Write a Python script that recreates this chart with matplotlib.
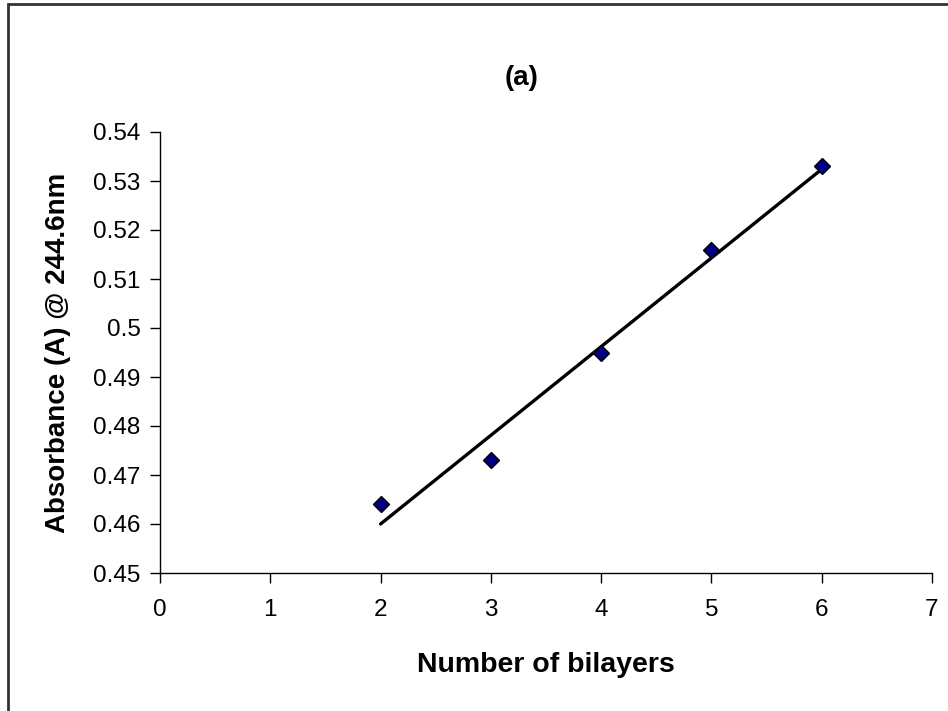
import matplotlib

matplotlib.use("Agg")
import matplotlib.pyplot as plt
import numpy as np
from matplotlib.patches import Rectangle

# absorbance at 244.6 nm vs number of deposited bilayers
bilayers = [2, 3, 4, 5, 6]
absorbance = [0.464, 0.473, 0.495, 0.516, 0.533]

x_ticks = [0, 1, 2, 3, 4, 5, 6, 7]
y_ticks = [0.45, 0.46, 0.47, 0.48, 0.49, 0.50, 0.51, 0.52, 0.53, 0.54]
y_tick_labels = ["0.45", "0.46", "0.47", "0.48", "0.49", "0.5",
                 "0.51", "0.52", "0.53", "0.54"]

plt.rcParams["font.family"] = ["Liberation Sans", "DejaVu Sans"]

W, H = 948, 711
fig = plt.figure(figsize=(W / 100, H / 100), dpi=100)
fig.patch.set_facecolor("white")

# chart-area border (only top and left edges fall inside the image)
fig.patches.append(Rectangle((8 / W, -0.2), 1.2, 1.2 - 4 / H,
                             transform=fig.transFigure, fill=False,
                             edgecolor="#333333", linewidth=2))

ax = fig.add_axes([160 / W, 138 / H, (932 - 160) / W, (573 - 132) / H])

# least-squares trend line through the measured points
slope, intercept = np.polyfit(bilayers, absorbance, 1)
fit_x = np.array([bilayers[0], bilayers[-1]])
ax.plot(fit_x, slope * fit_x + intercept, color="black", linewidth=2.4,
        solid_capstyle="round", zorder=2)

ax.plot(bilayers, absorbance, linestyle="none", marker="D", markersize=8.5,
        markerfacecolor="#000080", markeredgecolor="black",
        markeredgewidth=1.0, zorder=3)

ax.set_xlim(0, 7)
ax.set_ylim(0.45, 0.54)
ax.set_xticks(x_ticks)
ax.set_yticks(y_ticks)
ax.set_yticklabels(y_tick_labels)

for side in ("top", "right"):
    ax.spines[side].set_visible(False)
for side in ("left", "bottom"):
    ax.spines[side].set_color("black")
    ax.spines[side].set_linewidth(1.0)

ax.tick_params(axis="both", direction="out", length=7, width=1.0,
               labelsize=17.5, colors="black")
ax.tick_params(axis="x", pad=12)
ax.tick_params(axis="y", pad=7)

ax.set_xlabel("Number of bilayers", fontsize=20.5, fontweight="bold",
              labelpad=22)
ax.set_ylabel("Absorbance (A) @ 244.6nm", fontsize=20, fontweight="bold",
              labelpad=16)

fig.text(522 / W, 1 - 78 / H, "(a)", fontsize=20, fontweight="bold",
         ha="center", va="center")

fig.savefig("out.png", dpi=100, facecolor="white")
